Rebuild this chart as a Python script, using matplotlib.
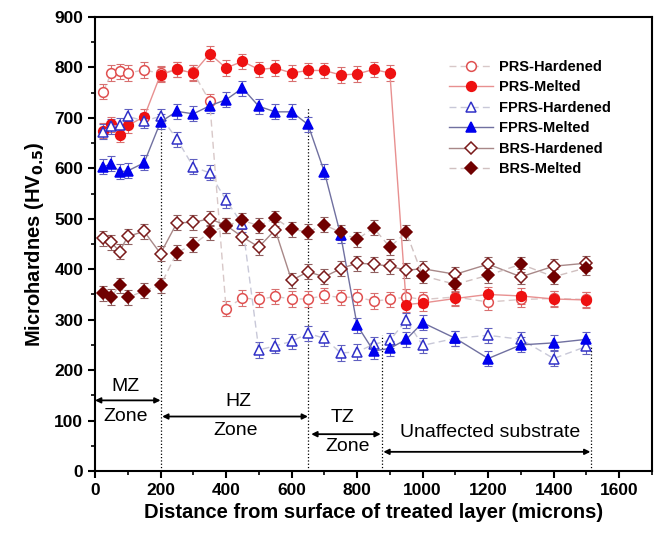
import matplotlib
matplotlib.use("Agg")
import matplotlib.pyplot as plt
from matplotlib.ticker import MultipleLocator

plt.rcParams["font.family"] = ["Liberation Sans", "DejaVu Sans"]

# distance from surface (microns)
dist = [25, 50, 75, 100, 150, 200, 250, 300, 350, 400, 450, 500, 550, 600, 650,
        700, 750, 800, 850, 900, 950, 1000, 1100, 1200, 1300, 1400, 1500]

prs_hard = [752, 789, 792, 789, 795, 788, 796, 790, 733, 322, 343, 340, 346, 341, 341,
            348, 344, 345, 337, 340, 345, 340, 345, 335, 340, 342, 340]
prs_melt = [675, 687, 667, 685, 702, 786, 796, 789, 827, 799, 812, 796, 799, 789, 794,
            794, 785, 787, 796, 789, 330, 333, 342, 350, 347, 341, 339]
fprs_hard = [673, 683, 685, 703, 694, 703, 658, 603, 591, 537, 489, 240, 248, 257, 273,
             263, 234, 236, 251, 259, 299, 249, 263, 269, 261, 223, 247]
fprs_melt = [603, 609, 593, 595, 611, 692, 713, 708, 724, 736, 759, 723, 712, 712, 687,
             593, 467, 289, 238, 243, 261, 294, 263, 223, 250, 254, 261]
brs_hard = [461, 453, 435, 465, 475, 431, 492, 493, 500, 487, 464, 444, 478, 378, 395,
            385, 401, 412, 410, 406, 398, 401, 390, 410, 385, 406, 412]
brs_melt = [352, 345, 368, 344, 357, 368, 433, 449, 473, 486, 497, 486, 501, 479, 474,
            488, 473, 459, 482, 444, 473, 387, 370, 388, 410, 385, 403]
err = 15

series = [
    ("PRS-Hardened", prs_hard, "o", "white", "#e05050", "#d8c8c8", (0, (5, 3)), "#d87070"),
    ("PRS-Melted", prs_melt, "o", "#ee1111", "#ee1111", "#e89090", "-", "#d87070"),
    ("FPRS-Hardened", fprs_hard, "^", "white", "#3030c8", "#c8c8d8", (0, (5, 3)), "#6060c0"),
    ("FPRS-Melted", fprs_melt, "^", "#0000ee", "#0000ee", "#7070a0", "-", "#6060c0"),
    ("BRS-Hardened", brs_hard, "D", "white", "#7a1a1a", "#a88888", "-", "#906060"),
    ("BRS-Melted", brs_melt, "D", "#700000", "#700000", "#d0c0c0", (0, (5, 3)), "#906060"),
]

fig = plt.figure(figsize=(6.54, 5.34), dpi=100)
ax = fig.add_axes([95 / 654, 1 - 471 / 534, 557 / 654, 454 / 534])

for name, vals, mk, fc, ec, lc, ls, errc in series:
    ax.errorbar(dist, vals, yerr=err, fmt="none", ecolor=errc, elinewidth=0.8,
                capsize=3, capthick=0.8, zorder=2)
    ms = 6 if mk == "D" else 7
    ax.plot(dist, vals, marker=mk, markersize=ms, markerfacecolor=fc,
            markeredgecolor=ec, markeredgewidth=1.1, color=lc, linestyle=ls,
            linewidth=1.0, label=name, zorder=3)

# zone boundaries
ax.plot([200, 200], [0, 692], ls=":", color="black", lw=0.9, zorder=1)
ax.plot([650, 650], [0, 720], ls=":", color="black", lw=0.9, zorder=1)
ax.plot([875, 875], [0, 270], ls=":", color="black", lw=0.9, zorder=1)
ax.plot([1515, 1515], [0, 250], ls=":", color="black", lw=0.9, zorder=1)

arrow = dict(arrowstyle="<|-|>", color="black", lw=1.3, mutation_scale=8,
             shrinkA=0, shrinkB=0)
ax.annotate("", xy=(0, 140), xytext=(200, 140), arrowprops=arrow)
ax.annotate("", xy=(205, 108), xytext=(650, 108), arrowprops=arrow)
ax.annotate("", xy=(660, 73), xytext=(872, 73), arrowprops=arrow)
ax.annotate("", xy=(880, 38), xytext=(1512, 38), arrowprops=arrow)

zf = dict(fontsize=14, ha="center", va="center",
          family=["Liberation Sans Narrow", "Liberation Sans"])
ax.text(92, 167, "MZ", **zf)
ax.text(92, 109, "Zone", **zf)
ax.text(437, 137, "HZ", **zf)
ax.text(430, 80, "Zone", **zf)
ax.text(755, 106, "TZ", **zf)
ax.text(770, 48, "Zone", **zf)
ax.text(1205, 77, "Unaffected substrate", **zf)

ax.set_xlim(0, 1700)
ax.set_ylim(0, 900)
ax.xaxis.set_major_locator(MultipleLocator(200))
ax.xaxis.set_minor_locator(MultipleLocator(100))
ax.yaxis.set_major_locator(MultipleLocator(100))
ax.yaxis.set_minor_locator(MultipleLocator(50))
ax.tick_params(which="major", length=5, width=1.5, labelsize=12.5)
ax.tick_params(which="minor", length=3, width=1.2)
for lab in ax.get_xticklabels() + ax.get_yticklabels():
    lab.set_fontweight("bold")
for sp in ax.spines.values():
    sp.set_linewidth(1.5)

ax.set_xlabel("Distance from surface of treated layer (microns)", fontsize=14.5,
              fontweight="bold", labelpad=4)
ax.set_ylabel("Microhardnes (HV$_{\\mathbf{0.5}}$)", fontsize=14.5, fontweight="bold",
              labelpad=6)

ax.legend(loc="upper left", bbox_to_anchor=(0.612, 0.935), frameon=False,
          prop=dict(weight="bold", size=10.5), handlelength=3.0,
          labelspacing=0.45, handletextpad=0.4)

fig.savefig("out.png", dpi=100)
